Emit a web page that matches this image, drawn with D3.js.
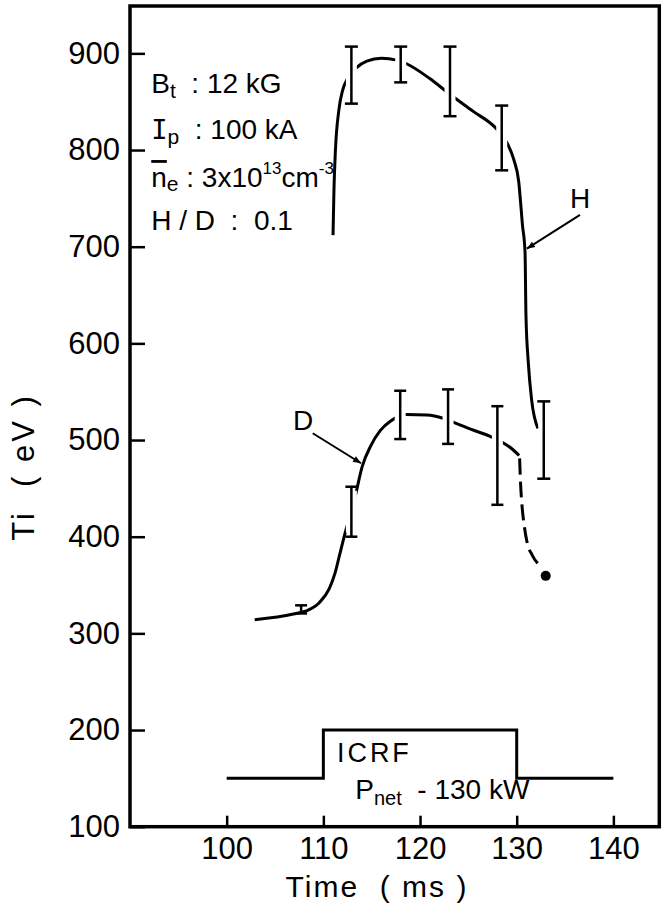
<!DOCTYPE html>
<html><head><meta charset="utf-8">
<script src="https://cdn.jsdelivr.net/npm/d3@7"></script>
<style>
html,body{margin:0;padding:0;background:#fff;}
svg{display:block;}
text{font-family:"Liberation Sans",Arial,sans-serif;fill:#000;white-space:pre;}
</style>
</head><body>
<svg id="chart" width="665" height="906"></svg>
<script>
// ---------------- data ----------------
const xTicks = [100, 110, 120, 130, 140];
const yTicks = [100, 200, 300, 400, 500, 600, 700, 800, 900];

// H curve (time ms, Ti eV)
const hCurve = [
  [111.0, 712], [111.1, 760], [111.25, 800], [111.6, 841], [112.0, 862], [112.5, 874],
  [113.4, 885], [114.5, 892], [116.0, 895], [117.6, 893], [118.65, 889],
  [121.0, 874], [123.05, 858], [125.5, 840], [127.9, 822], [128.97, 808],
  [129.7, 790], [130.2, 768], [130.6, 722], [130.86, 695], [130.96, 628],
  [131.2, 580], [131.55, 541], [132.2, 512]
];
// H error bars [time, low, high]
const hErrors = [
  [112.9, 848, 907], [118.0, 870, 907], [123.1, 835, 907], [128.45, 779, 846], [132.8, 460, 540]
];
// D curve, solid part
const dCurveSolid = [
  [102.9, 314], [106.9, 320], [108.3, 323.5], [109.6, 332], [110.6, 346], [111.2, 362],
  [111.7, 382], [112.2, 402], [112.7, 420], [113.3, 442], [114.0, 472], [114.9, 494],
  [115.9, 510], [117.0, 520], [118.6, 526.5], [120.7, 526], [122.4, 522.5],
  [123.3, 519], [125.3, 511], [127.2, 504], [128.45, 498], [129.5, 491], [130.25, 484]
];
// D curve, dashed part
const dCurveDashed = [
  [130.3, 481], [130.4, 455], [130.55, 432], [130.8, 410], [131.1, 393], [131.6, 381], [132.5, 369]
];
const dEndPoint = [[133.0, 359.5]];
// D error bars [time, low, high]
const dErrors = [
  [107.7, 320.6, 329], [112.9, 400, 451.7], [117.95, 501, 551], [122.9, 496, 552.4], [128.0, 433, 535]
];
// ICRF power trace (time, level on Ti axis)
const icrfTime  = [100, 110, 110, 130, 130, 140];
const icrfLevel = [150, 150, 200, 200, 150, 150];

// annotation arrows [from, to]
const hArrow = [[136.55, 733], [131.05, 698]];
const dArrow = [[108.9, 507], [113.9, 476]];

// ---------------- chart ----------------
const svg = d3.select('#chart');
const x = d3.scaleLinear().domain([90, 144.75]).range([130, 659.3]);
const y = d3.scaleLinear().domain([100, 949]).range([826.7, 6]);

const defs = svg.append('defs');
defs.append('marker').attr('id', 'arr').attr('viewBox', '0 0 10 10')
  .attr('refX', 10).attr('refY', 5).attr('markerWidth', 11).attr('markerHeight', 8)
  .attr('markerUnits', 'userSpaceOnUse').attr('orient', 'auto')
  .append('path').attr('d', 'M0,1 L10,5 L0,9 Z').attr('fill', '#000');

// frame
svg.append('rect')
  .attr('x', x(90)).attr('y', y(949))
  .attr('width', x(144.75) - x(90)).attr('height', y(100) - y(949))
  .attr('fill', 'none').attr('stroke', '#000').attr('stroke-width', 3.5);

// axes
const yAxis = svg.append('g').attr('transform', `translate(${x(90)},0)`)
  .call(d3.axisLeft(y).tickValues(yTicks).tickSizeInner(-15).tickSizeOuter(0).tickPadding(10));
const xAxis = svg.append('g').attr('transform', `translate(0,${y(100)})`)
  .call(d3.axisBottom(x).tickValues(xTicks).tickSizeInner(-11).tickSizeOuter(0).tickPadding(10));
[yAxis, xAxis].forEach(a => {
  a.select('.domain').remove();
  a.selectAll('.tick line').attr('stroke', '#000').attr('stroke-width', 2.5);
  a.selectAll('.tick text').attr('font-family', '"Liberation Sans",Arial,sans-serif')
    .attr('font-size', 31).attr('fill', '#000');
});

// axis titles
svg.append('text').attr('x', 377).attr('y', 897).attr('text-anchor', 'middle')
  .attr('font-size', 30).attr('letter-spacing', 2).text('Time  ( ms )');
svg.append('text').attr('transform', 'translate(34,467) rotate(-90)').attr('text-anchor', 'middle')
  .attr('font-size', 31).attr('letter-spacing', 3).text('Ti  ( eV )');

// curves
const line = d3.line().x(d => x(d[0])).y(d => y(d[1])).curve(d3.curveMonotoneX);
svg.append('path').datum(hCurve).attr('d', line)
  .attr('fill', 'none').attr('stroke', '#000').attr('stroke-width', 3);
svg.append('path').datum(dCurveSolid).attr('d', line)
  .attr('fill', 'none').attr('stroke', '#000').attr('stroke-width', 3);
svg.append('path').datum(dCurveDashed).attr('d', line)
  .attr('fill', 'none').attr('stroke', '#000').attr('stroke-width', 3).attr('stroke-dasharray', '16 7');
svg.selectAll('.dend').data(dEndPoint).join('circle')
  .attr('cx', d => x(d[0])).attr('cy', d => y(d[1])).attr('r', 5).attr('fill', '#000');

// error bars (white halo creates gap in curves)
function errorBars(data, cap) {
  const g = svg.append('g');
  g.selectAll('.halo').data(data).join('line')
    .attr('x1', d => x(d[0])).attr('x2', d => x(d[0]))
    .attr('y1', d => y(d[2]) + 4).attr('y2', d => y(d[1]) - 4)
    .attr('stroke', '#fff').attr('stroke-width', 11);
  g.selectAll('.bar').data(data).join('line')
    .attr('x1', d => x(d[0])).attr('x2', d => x(d[0]))
    .attr('y1', d => y(d[2])).attr('y2', d => y(d[1]))
    .attr('stroke', '#000').attr('stroke-width', 2.5);
  ['1', '2'].forEach(k => {
    g.selectAll('.cap' + k).data(data).join('line')
      .attr('x1', d => x(d[0]) - cap / 2).attr('x2', d => x(d[0]) + cap / 2)
      .attr('y1', d => y(k === '1' ? d[1] : d[2])).attr('y2', d => y(k === '1' ? d[1] : d[2]))
      .attr('stroke', '#000').attr('stroke-width', 2.5);
  });
}
errorBars(hErrors, 13);
errorBars(dErrors, 12);

// ICRF trace
const step = icrfTime.map((t, i) => [t, icrfLevel[i]]);
svg.append('path').datum(step).attr('d', d3.line().x(d => x(d[0])).y(d => y(d[1])))
  .attr('fill', 'none').attr('stroke', '#000').attr('stroke-width', 3);
svg.append('text').attr('x', x(111.4)).attr('y', y(167.2))
  .attr('font-family', '"DejaVu Sans Mono",monospace').attr('font-size', 27).attr('letter-spacing', 3).text('ICRF');
const pn = svg.append('text').attr('x', x(113.3)).attr('y', y(129)).attr('font-size', 28);
pn.append('tspan').text('P');
pn.append('tspan').attr('font-size', 20).attr('dy', 6).text('net');
pn.append('tspan').attr('dy', -6).text('  - 130 kW');

// arrows and labels
[hArrow, dArrow].forEach(a => {
  svg.append('line').attr('x1', x(a[0][0])).attr('y1', y(a[0][1]))
    .attr('x2', x(a[1][0])).attr('y2', y(a[1][1]))
    .attr('stroke', '#000').attr('stroke-width', 2).attr('marker-end', 'url(#arr)');
});
svg.append('text').attr('x', x(136.55)).attr('y', y(740)).attr('text-anchor', 'middle')
  .attr('font-size', 28).text('H');
svg.append('text').attr('x', x(107.9)).attr('y', y(510)).attr('text-anchor', 'middle')
  .attr('font-size', 28).text('D');

// parameter block
const tx = x(92.2);
const t1 = svg.append('text').attr('x', tx).attr('y', y(858.9)).attr('font-size', 28);
t1.append('tspan').text('B');
t1.append('tspan').attr('font-size', 21).attr('dy', 5).text('t');
t1.append('tspan').attr('dy', -5).text('  : 12 kG');

const t2 = svg.append('text').attr('x', tx).attr('y', y(811.3)).attr('font-size', 28);
t2.append('tspan').attr('font-family', '"DejaVu Sans Mono",monospace').attr('font-size', 27).text('I');
t2.append('tspan').attr('font-size', 21).attr('dy', 5).text('p');
t2.append('tspan').attr('dy', -5).text('  : 100 kA');

const t3 = svg.append('text').attr('x', tx).attr('y', y(761.7)).attr('font-size', 28);
t3.append('tspan').style('text-decoration', 'overline').text('n');
t3.append('tspan').attr('font-size', 21).attr('dy', 4).text('e');
t3.append('tspan').attr('dy', -4).text(' : 3x10');
t3.append('tspan').attr('font-size', 17).attr('dy', -13).text('13');
t3.append('tspan').attr('dy', 13).text('cm');
t3.append('tspan').attr('font-size', 17).attr('dy', -13).text('-3');

svg.append('text').attr('x', tx).attr('y', y(717.2)).attr('font-size', 28).text('H / D  :  0.1');
</script>
</body></html>
